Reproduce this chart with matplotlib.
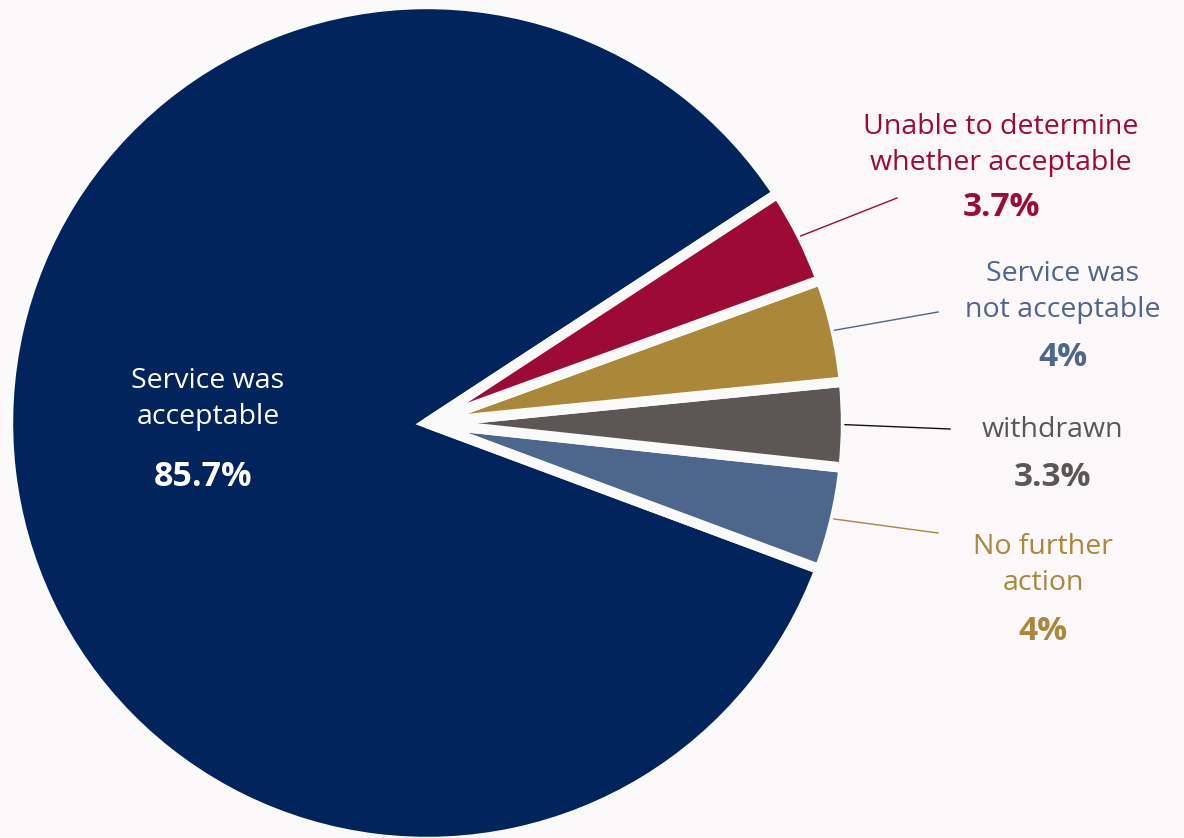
import numpy as np
import matplotlib.pyplot as plt

# data (slices in counter-clockwise order, starting at the top-right edge of the big slice)
labels = ["Service was\nacceptable", "No further\naction", "withdrawn",
          "Service was\nnot acceptable", "Unable to determine\nwhether acceptable"]
values = [85.7, 4, 3.3, 4, 3.7]
pct_text = ["85.7%", "4%", "3.3%", "4%", "3.7%"]
slice_colors = ["#00245B", "#4C668C", "#5C5654", "#AB873A", "#9E0A36"]
label_colors = ["#FFFFFF", "#AB873A", "#5C5654", "#4C668C", "#9E0A36"]
line_colors = ["#FFFFFF", "#AB873A", "#111111", "#4C668C", "#9E0A36"]

W, H = 1184, 838
bg = "#FCF7F9"
plt.rcParams['font.family'] = ['Open Sans', 'DejaVu Sans']

fig = plt.figure(figsize=(W / 100, H / 100), dpi=100, facecolor=bg)
ax = fig.add_axes([0, 0, 1, 1])
ax.set_facecolor(bg)

cx, cy, r = 427, H - 423, 419
wedges, _ = ax.pie(values, colors=slice_colors, startangle=33.2, counterclock=True,
                   radius=r, center=(cx, cy),
                   wedgeprops=dict(linewidth=7.5, edgecolor="#FAFAFA"))
for k, w in enumerate(wedges):
    w.set_joinstyle('miter' if k == 0 else 'bevel')
ax.set_xlim(0, W)
ax.set_ylim(0, H)
ax.set_aspect('equal')
ax.axis('off')

name_fs, pct_fs = 20.5, 24

# big slice label
ax.text(208, H - 399, labels[0], color=label_colors[0], fontsize=name_fs,
        ha='center', va='center', linespacing=1.35)
ax.text(203, H - 477, pct_text[0], color=label_colors[0], fontsize=pct_fs + 0.5,
        fontweight='bold', ha='center', va='center')

# outside labels: (name x, name y, pct y, line end x, line end y) in pixels
layout = {
    1: (1043, 565, 631, 938, 533),
    2: (1052, 430, 478, 950, 429),
    3: (1063, 292, 358, 938, 312),
    4: (1001, 145, 207, 897, 198),
}
for i, (tx, ty, py, lx, ly) in layout.items():
    w = wedges[i]
    mid = np.deg2rad((w.theta1 + w.theta2) / 2)
    sx = cx + (r - 1) * np.cos(mid)
    sy = cy + (r - 1) * np.sin(mid)
    ax.plot([sx, lx], [sy, H - ly], color=line_colors[i], lw=1)
    ax.text(tx, H - ty, labels[i], color=label_colors[i], fontsize=name_fs,
            ha='center', va='center', linespacing=1.35)
    ax.text(tx, H - py, pct_text[i], color=label_colors[i], fontsize=pct_fs,
            fontweight='bold', ha='center', va='center')

fig.savefig("out.png", dpi=100, facecolor=bg)
